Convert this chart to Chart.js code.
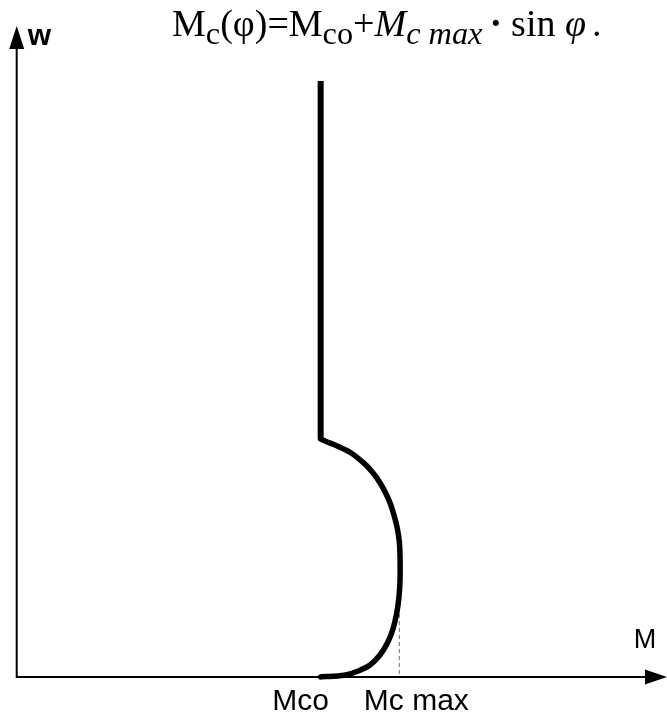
<!DOCTYPE html>
<html>
<head>
<meta charset="utf-8">
<script src="https://cdn.jsdelivr.net/npm/chart.js@4"></script>
<style>
body{margin:0;background:#fff;}
#wrap{position:relative;width:667px;height:717px;}
#formula{position:absolute;left:172px;top:4px;font-family:"Liberation Serif",serif;font-size:38px;line-height:1;white-space:nowrap;color:#000;}
#formula sub{font-size:0.85em;vertical-align:-8px;line-height:0;}
#formula .dot{margin:0 9px 0 7px;font-weight:bold;}
#formula .end{margin-left:6px;}
</style>
</head>
<body>
<div id="wrap">
<canvas id="myChart" width="667" height="717"></canvas>
<div id="formula">M<sub>c</sub>(φ)=M<sub>co</sub>+<i>M<sub>c max</sub></i><span class="dot">·</span>sin <i>φ</i><span class="end">.</span></div>
</div>
<script>
// vertical part (w above the bulge, M = Mco)
const vertM = [4.68, 4.68];
const vertW = [9.155, 3.656];
// bulge down to the M axis
const curveM = [4.680, 4.773, 4.874, 5.003, 5.131, 5.258, 5.387, 5.488, 5.591, 5.668, 5.745, 5.806, 5.857, 5.888, 5.899, 5.899, 5.883, 5.848, 5.786, 5.703, 5.591, 5.438, 5.258, 5.080, 4.874, 4.696, 4.680];
const curveW = [3.656, 3.614, 3.574, 3.518, 3.452, 3.359, 3.246, 3.129, 2.985, 2.846, 2.677, 2.488, 2.284, 2.078, 1.848, 1.490, 1.233, 0.978, 0.722, 0.518, 0.338, 0.184, 0.092, 0.035, 0.011, 0.005, 0.0];
// dashed drop at Mc max
const dashM = [5.889, 5.889];
const dashW = [1.183, 0];

const tickLabels = ['Mco', 'Mc max'];
const tickValues = [4.68, 5.889];
const xTitle = 'M';
const yTitle = 'w';

const toXY = (xs, ys) => xs.map((x, i) => ({x: x, y: ys[i]}));

const arrowAxes = {
  id: 'arrowAxes',
  beforeDatasetsDraw(chart) {
    const c = chart.ctx;
    const xs = chart.scales.x, ys = chart.scales.y;
    const ox = xs.getPixelForValue(0) + 0.7, oy = ys.getPixelForValue(0);
    const right = chart.chartArea.right, top = chart.chartArea.top;
    c.save();
    c.strokeStyle = '#000';
    c.fillStyle = '#000';
    c.lineWidth = 2;
    c.beginPath();
    c.moveTo(ox, top + 20);
    c.lineTo(ox, oy);
    c.lineTo(right - 20, oy);
    c.stroke();
    // arrow heads
    c.beginPath();
    c.moveTo(ox, top);
    c.lineTo(ox - 7.5, top + 23);
    c.lineTo(ox + 7.5, top + 23);
    c.closePath();
    c.fill();
    c.beginPath();
    c.moveTo(right, oy);
    c.lineTo(right - 22, oy - 7.5);
    c.lineTo(right - 22, oy + 7.5);
    c.closePath();
    c.fill();
    // labels
    c.font = '30px "Liberation Sans", Arial, sans-serif';
    c.textBaseline = 'alphabetic';
    c.textAlign = 'center';
    const offs = [-20, 17];
    tickLabels.forEach((t, i) => {
      c.fillText(t, xs.getPixelForValue(tickValues[i]) + offs[i], oy + 33);
    });
    c.font = '27px "Liberation Sans", Arial, sans-serif';
    c.fillText(xTitle, right - 22, oy - 29);
    c.textAlign = 'left';
    c.font = 'bold 30px "Liberation Sans", Arial, sans-serif';
    c.fillText(yTitle, ox + 11, top + 19);
    c.restore();
  }
};

new Chart(document.getElementById('myChart'), {
  type: 'scatter',
  data: {
    datasets: [{
      data: toXY(vertM, vertW),
      showLine: true,
      borderColor: '#000',
      borderWidth: 6,
      borderCapStyle: 'butt',
      pointRadius: 0,
      clip: false
    }, {
      data: toXY(curveM, curveW),
      showLine: true,
      borderColor: '#000',
      borderWidth: 5.5,
      borderCapStyle: 'round',
      borderJoinStyle: 'round',
      tension: 0.2,
      pointRadius: 0,
      clip: false
    }, {
      data: toXY(dashM, dashW),
      showLine: true,
      borderColor: '#888',
      borderWidth: 1.2,
      borderDash: [4, 3],
      pointRadius: 0,
      clip: false
    }]
  },
  options: {
    responsive: false,
    devicePixelRatio: 1,
    animation: false,
    layout: {padding: {left: 16, right: 0, top: 26, bottom: 40}},
    plugins: {legend: {display: false}, tooltip: {enabled: false}},
    scales: {
      x: {type: 'linear', min: 0, max: 10, display: false},
      y: {type: 'linear', min: 0, max: 10, display: false}
    }
  },
  plugins: [arrowAxes]
});
</script>
</body>
</html>
